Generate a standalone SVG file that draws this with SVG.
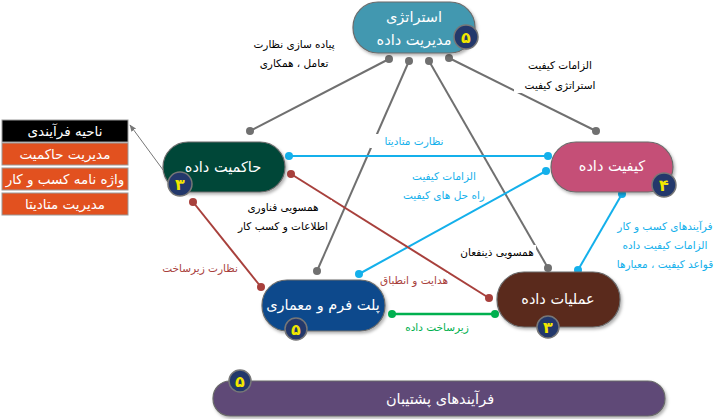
<svg xmlns="http://www.w3.org/2000/svg" width="719" height="419" viewBox="0 0 719 419">
<defs>
<filter id="sh" x="-10%" y="-10%" width="130%" height="140%"><feDropShadow dx="1.5" dy="2" stdDeviation="1.5" flood-color="#000" flood-opacity="0.3"/></filter>
<marker id="arr" viewBox="0 0 10 10" refX="9" refY="5" markerWidth="7" markerHeight="7" orient="auto"><path d="M0,1 L10,5 L0,9 z" fill="#777"/></marker>
</defs>
<style>
text{font-family:"DejaVu Sans","Noto Sans",sans-serif;direction:rtl;text-anchor:middle}
.node{stroke:#6b6b6b;stroke-width:1.2;filter:url(#sh)}
.nt{fill:#fff;font-size:14.5px}
.badge{fill:#23386b;stroke:#777;stroke-width:1.5}
.bt{fill:#f2e600;font-size:16px;font-weight:bold}
.gray{stroke:#707070;stroke-width:2;fill:none}
.gd{fill:#707070}
.blue{stroke:#14b0eb;stroke-width:2;fill:none}
.bd{fill:#14b0eb}
.red{stroke:#a8403c;stroke-width:2;fill:none}
.rd{fill:#a8403c}
.green{stroke:#00b04f;stroke-width:2.5;fill:none}
.grd{fill:#00b04f}
.lbl{font-size:10.5px}
.bg{fill:#fff}
.cell{stroke:#999;stroke-width:1}
.ct{fill:#fff;font-size:13.5px}
</style>
<g id="connectors">
<line class="gray" x1="389" y1="59" x2="250" y2="131"/>
<line class="gray" x1="409" y1="61" x2="317" y2="271"/>
<line class="gray" x1="429" y1="61" x2="548" y2="268"/>
<line class="gray" x1="449" y1="58" x2="596" y2="131"/>
<circle class="gd" cx="389" cy="59" r="4"/><circle class="gd" cx="409" cy="61" r="4"/><circle class="gd" cx="429" cy="61" r="4"/><circle class="gd" cx="449" cy="58" r="4"/>
<circle class="gd" cx="250" cy="131" r="4"/><circle class="gd" cx="317" cy="271" r="4"/><circle class="gd" cx="548" cy="268" r="4"/><circle class="gd" cx="596" cy="131" r="4"/>
<line class="blue" x1="289" y1="156" x2="548" y2="156"/>
<circle class="bd" cx="289" cy="156" r="4"/><circle class="bd" cx="548" cy="156" r="4"/>
<line class="blue" x1="359" y1="274" x2="546" y2="171"/>
<circle class="bd" cx="359" cy="274" r="4"/><circle class="bd" cx="546" cy="171" r="4"/>
<line class="blue" x1="622" y1="194" x2="578" y2="270"/>
<circle class="bd" cx="622" cy="194" r="4"/><circle class="bd" cx="578" cy="270" r="4"/>
<line class="red" x1="291" y1="174" x2="489" y2="298"/>
<circle class="rd" cx="291" cy="174" r="4"/><circle class="rd" cx="489" cy="298" r="4"/>
<line class="red" x1="193" y1="202" x2="261" y2="287"/>
<circle class="rd" cx="193" cy="202" r="4"/><circle class="rd" cx="261" cy="287" r="4"/>
<line class="green" x1="392" y1="314" x2="495" y2="314"/>
<circle class="grd" cx="392" cy="314" r="4"/><circle class="grd" cx="495" cy="314" r="4"/>
<line x1="169" y1="178" x2="130" y2="125" stroke="#777" stroke-width="1" marker-end="url(#arr)"/>
<g id="labels">
<rect class="bg" x="248" y="36" width="92" height="34"/>
<text class="lbl" x="294" y="48" fill="#000">پیاده سازی نظارت</text>
<text class="lbl" x="294" y="67" fill="#000">تعامل ، همکاری</text>
<rect class="bg" x="514" y="57" width="92" height="36"/>
<text class="lbl" x="560" y="69" fill="#000">الزامات کیفیت</text>
<text class="lbl" x="560" y="89" fill="#000">استراتژی کیفیت</text>
<rect class="bg" x="370" y="134" width="88" height="14"/>
<text class="lbl" x="414" y="145" fill="#14b0eb">نظارت متادیتا</text>
<rect class="bg" x="402" y="168" width="84" height="34"/>
<text class="lbl" x="444" y="180" fill="#14b0eb">الزامات کیفیت</text>
<text class="lbl" x="444" y="199" fill="#14b0eb">راه حل های کیفیت</text>
<text class="lbl" x="665" y="230" fill="#14b0eb">فرآیندهای کسب و کار</text>
<text class="lbl" x="665" y="249" fill="#14b0eb">الزامات کیفیت داده</text>
<text class="lbl" x="665" y="268" fill="#14b0eb">قواعد کیفیت ، معیارها</text>
<rect class="bg" x="234" y="200" width="98" height="34"/>
<text class="lbl" x="283" y="211" fill="#000">همسویی فناوری</text>
<text class="lbl" x="283" y="230" fill="#000">اطلاعات و کسب کار</text>
<rect class="bg" x="458" y="245" width="78" height="14"/>
<text class="lbl" x="497" y="256" fill="#000">همسویی ذینفعان</text>
<rect class="bg" x="162" y="261" width="76" height="14"/>
<text class="lbl" x="200" y="272" fill="#a8403c">نظارت زیرساخت</text>
<rect class="bg" x="380" y="273" width="68" height="14"/>
<text class="lbl" x="414" y="284" fill="#a8403c">هدایت و انطباق</text>
<text class="lbl" x="437" y="331" fill="#00b04f">زیرساخت داده</text>
</g>
</g>
<g id="strategy">
<rect class="node" x="353" y="2" width="122" height="51" rx="25" fill="#4398b0"/>
<text class="nt" x="414" y="22">استراتژی</text>
<text class="nt" x="414" y="45">مدیریت داده</text>
<circle class="badge" cx="466" cy="37" r="12"/><text class="bt" x="466" y="43">۵</text>
</g>
<g id="governance">
<rect class="node" x="163" y="142" width="122" height="50" rx="25" fill="#034638"/>
<text class="nt" x="223" y="172">حاکمیت داده</text>
<circle class="badge" cx="180" cy="184" r="12"/><text class="bt" x="180" y="190">۳</text>
</g>
<g id="quality">
<rect class="node" x="551" y="142" width="122" height="50" rx="25" fill="#c55077"/>
<text class="nt" x="612" y="171">کیفیت داده</text>
<circle class="badge" cx="664" cy="185" r="12"/><text class="bt" x="664" y="191">۴</text>
</g>
<g id="platform">
<rect class="node" x="262" y="280" width="123" height="51" rx="25" fill="#0a4a8c"/>
<text class="nt" x="323" y="310">پلت فرم و معماری</text>
<circle class="badge" cx="296" cy="329" r="11"/><text class="bt" x="296" y="335">۵</text>
</g>
<g id="operations">
<rect class="node" x="497" y="272" width="123" height="55" rx="27" fill="#5a2a1d"/>
<text class="nt" x="558" y="304">عملیات داده</text>
<circle class="badge" cx="548" cy="327" r="11"/><text class="bt" x="548" y="333">۳</text>
</g>
<g id="support">
<rect class="node" x="213" y="381" width="452" height="35" rx="17" fill="#5e4877"/>
<text class="nt" x="440" y="404">فرآیندهای پشتیبان</text>
<circle class="badge" cx="240" cy="381" r="11"/><text class="bt" x="240" y="387">۵</text>
</g>
<g id="process-table">
<rect class="cell" x="2" y="120" width="126" height="22" fill="#000"/>
<text class="ct" x="65" y="136">ناحیه فرآیندی</text>
<rect class="cell" x="2" y="143" width="126" height="22" fill="#e2511f"/>
<text class="ct" x="65" y="159">مدیریت حاکمیت</text>
<rect class="cell" x="2" y="168" width="126" height="22" fill="#e2511f"/>
<text class="ct" x="65" y="184">واژه نامه کسب و کار</text>
<rect class="cell" x="2" y="193" width="126" height="22" fill="#e2511f"/>
<text class="ct" x="65" y="209">مدیریت متادیتا</text>
</g>
</svg>
